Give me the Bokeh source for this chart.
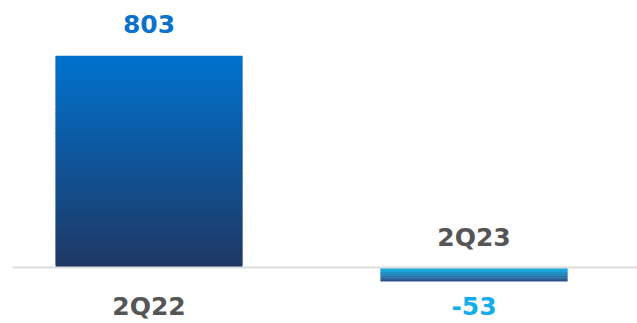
from bokeh.plotting import figure
from bokeh.models import ColumnDataSource, Range1d
from bokeh.embed import file_html
from bokeh.resources import INLINE
from bokeh.core.properties import value

# ---- data ----
categories = ["2Q22", "2Q23"]
values = [803, -53]
value_labels = ["803", "-53"]
value_colors = ["#0A72C9", "#12AEEA"]
# gradient (top colour, bottom colour) per bar
grad_top = [(0, 114, 206), (0, 178, 238)]
grad_bottom = [(31, 55, 99), (25, 60, 120)]

W, H = 637, 323
p = figure(width=W, height=H, output_backend="svg", toolbar_location=None,
           x_range=Range1d(-0.457, 1.503), y_range=Range1d(-212.5, 1013),
           min_border=0, outline_line_color=None)
p.axis.visible = False
p.grid.visible = False
p.background_fill_color = "white"
p.border_fill_color = "white"

xs = list(range(len(categories)))
bar_w = 0.575

# gradient bars built from many thin strips between 0 and the value
N = 80
left, right, top, bottom, colors = [], [], [], [], []
for i, v in enumerate(values):
    hi, lo = max(v, 0), min(v, 0)
    for k in range(N):
        y0 = lo + (hi - lo) * k / N
        y1 = lo + (hi - lo) * (k + 1) / N
        t = (k + 0.5) / N  # 0 at bottom, 1 at top
        c = tuple(int(round(grad_bottom[i][j] + (grad_top[i][j] - grad_bottom[i][j]) * t)) for j in range(3))
        left.append(xs[i] - bar_w / 2)
        right.append(xs[i] + bar_w / 2)
        bottom.append(y0)
        top.append(y1 + (hi - lo) * 0.01 if k < N - 1 else y1)
        colors.append("#%02x%02x%02x" % c)
p.quad(left="left", right="right", top="top", bottom="bottom", fill_color="color",
       line_color=None,
       source=ColumnDataSource(dict(left=left, right=right, top=top, bottom=bottom, color=colors)))

# baseline
p.segment(x0=[-0.42], x1=[1.503], y0=[0], y1=[0], line_color="#dcdcdc", line_width=2)

font = value("DejaVu Sans")
fs = "25px"
for i, v in enumerate(values):
    if v >= 0:
        p.text(x=[xs[i]], y=[v], text=[value_labels[i]], text_color=value_colors[i],
               text_font=font, text_font_style="bold", text_font_size=fs,
               text_align="center", text_baseline="middle", y_offset=-32)
        p.text(x=[xs[i]], y=[0], text=[categories[i]], text_color="#555555",
               text_font=font, text_font_style="bold", text_font_size=fs,
               text_align="center", text_baseline="middle", y_offset=39)
    else:
        p.text(x=[xs[i]], y=[v], text=[value_labels[i]], text_color=value_colors[i],
               text_font=font, text_font_style="bold", text_font_size=fs,
               text_align="center", text_baseline="middle", y_offset=25)
        p.text(x=[xs[i]], y=[0], text=[categories[i]], text_color="#555555",
               text_font=font, text_font_style="bold", text_font_size=fs,
               text_align="center", text_baseline="middle", y_offset=-30)

open("out.html", "w").write(file_html(p, INLINE))
